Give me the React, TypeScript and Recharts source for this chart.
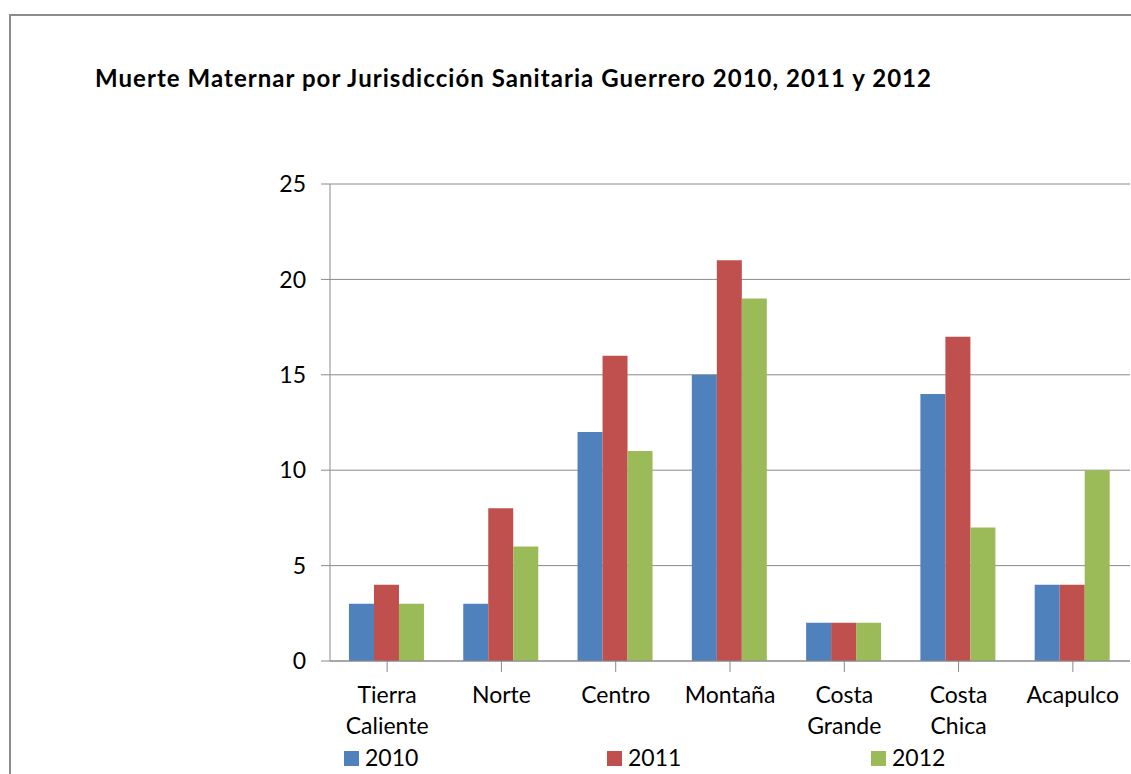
import React from "react";
import { BarChart, Bar, XAxis, YAxis, CartesianGrid } from "recharts";

const categories = [
  "Tierra Caliente",
  "Norte",
  "Centro",
  "Montaña",
  "Costa Grande",
  "Costa Chica",
  "Acapulco",
];
const deaths2010 = [3, 3, 12, 15, 2, 14, 4];
const deaths2011 = [4, 8, 16, 21, 2, 17, 4];
const deaths2012 = [3, 6, 11, 19, 2, 7, 10];
const yTicks = [0, 5, 10, 15, 20, 25];

const TITLE = "Muerte Maternar por Jurisdicción Sanitaria Guerrero 2010, 2011 y 2012";
const FONT = "Lato, 'Open Sans', sans-serif";
const GRID = "#8a8a8a";

const SERIES = [
  { key: "y2010", name: "2010", color: "#4F81BD", legendX: 344 },
  { key: "y2011", name: "2011", color: "#C0504D", legendX: 607 },
  { key: "y2012", name: "2012", color: "#9BBB59", legendX: 871 },
];

const data = categories.map((name, i) => ({
  name,
  y2010: deaths2010[i],
  y2011: deaths2011[i],
  y2012: deaths2012[i],
}));

function CategoryTick({ x, y, payload }: { x?: number; y?: number; payload?: { value: string } }) {
  const lines = String(payload?.value ?? "").split(" ");
  return (
    <text x={x} y={y} textAnchor="middle" fill="#000" fontSize={23} fontFamily={FONT}>
      {lines.map((line, i) => (
        <tspan key={i} x={x} dy={31}>
          {line}
        </tspan>
      ))}
    </text>
  );
}

export default function App() {
  return (
    <div
      style={{
        position: "fixed",
        left: 0,
        top: 0,
        width: 1131,
        height: 774,
        overflow: "hidden",
        background: "#fff",
      }}
    >
      <div
        style={{
          position: "absolute",
          left: 9,
          top: 14,
          width: 1200,
          height: 900,
          border: "2px solid #8c8c8c",
        }}
      />
      <div style={{ position: "absolute", left: 0, top: 0 }}>
        <BarChart
          width={1131}
          height={774}
          data={data}
          margin={{ top: 184, right: 1, left: 270, bottom: 33 }}
          barCategoryGap="16.6%"
          barGap={0}
        >
          <CartesianGrid vertical={false} stroke={GRID} strokeWidth={1} />
          <XAxis
            dataKey="name"
            height={80}
            axisLine={{ stroke: GRID }}
            tickLine={{ stroke: GRID }}
            tickSize={11}
            tickMargin={0}
            interval={0}
            tick={<CategoryTick />}
          />
          <YAxis
            width={60}
            domain={[0, 25]}
            ticks={yTicks}
            axisLine={{ stroke: GRID }}
            tickLine={{ stroke: GRID }}
            tickSize={9}
            tickMargin={15}
            tick={{ fill: "#000", fontSize: 23, fontFamily: FONT }}
          />
          {SERIES.map((s) => (
            <Bar key={s.key} dataKey={s.key} name={s.name} fill={s.color} isAnimationActive={false} />
          ))}
        </BarChart>
      </div>
      <svg
        width={1131}
        height={774}
        style={{ position: "absolute", left: 0, top: 0, pointerEvents: "none" }}
      >
        <text
          x={95}
          y={87}
          fontSize={24}
          fontWeight="bold"
          fontFamily={FONT}
          fill="#000"
          textLength={836}
          lengthAdjust="spacing"
        >
          {TITLE}
        </text>
        {SERIES.map((s) => (
          <g key={s.key}>
            <rect x={s.legendX} y={751} width={15} height={15} fill={s.color} />
            <text x={s.legendX + 21} y={766} fontSize={23} fontFamily={FONT} fill="#000">
              {s.name}
            </text>
          </g>
        ))}
      </svg>
    </div>
  );
}
